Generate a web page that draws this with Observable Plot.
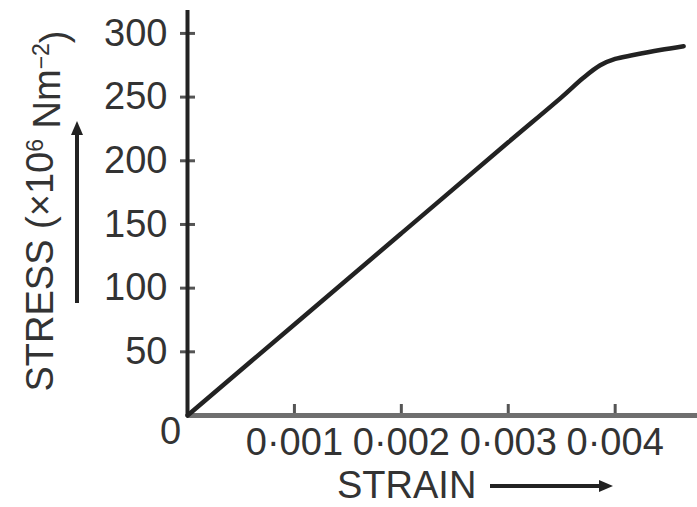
<!DOCTYPE html>
<html><head><meta charset="utf-8">
<script src="https://cdn.jsdelivr.net/npm/d3@7"></script>
<script src="https://cdn.jsdelivr.net/npm/@observablehq/plot@0.6"></script>
<style>body{margin:0;background:#fff;} svg{display:block;}</style>
</head><body><div id="chart"></div>
<script>
// Data
const strain = [0, 0.001, 0.002, 0.003, 0.0035, 0.0037, 0.00386, 0.0040, 0.00417, 0.00442, 0.00464];
const stress = [0, 71.5, 143, 214.5, 250, 265, 275, 280, 283, 287, 290];
const xTicks = [0.001, 0.002, 0.003, 0.004];
const xTickLabels = ["0·001", "0·002", "0·003", "0·004"];
const yTicks = [50, 100, 150, 200, 250, 300];
const yTickLabels = ["50", "100", "150", "200", "250", "300"];
const originLabel = ["0"];
const xTitle = "STRAIN";
const yTitleParts = [["STRESS (×10", 0], ["6", 1], [" Nm", 0], ["−2", 1], [")", 0]];

const data = strain.map((x, i) => ({x, y: stress[i]}));
const font = "'Liberation Sans', Arial, Helvetica, sans-serif";
const W = 697, H = 507, ML = 187, MT = 10, MB = 92, MR = 0;

const chart = Plot.plot({
  width: W, height: H, marginLeft: ML, marginRight: MR, marginTop: MT, marginBottom: MB,
  style: {fontFamily: font, fontSize: "38px", color: "#333", background: "#fff", overflow: "visible"},
  x: {domain: [0, 0.00477]},
  y: {domain: [0, 318]},
  marks: [
    Plot.axisY(yTicks, {tickSize: 0, tickPadding: 20, tickFormat: d => yTickLabels[yTicks.indexOf(d)], fontSize: 38, fill: "#333", label: null}),
    Plot.axisX(xTicks, {tickSize: 0, tickPadding: 13, tickFormat: d => xTickLabels[xTicks.indexOf(d)], fontSize: 38, fill: "#333", label: null}),
    Plot.tickY(yTicks, {y: d => d, dx: -7, insetRight: W - ML - MR - 15, stroke: "#555", strokeWidth: 3}),
    Plot.tickX(xTicks, {x: d => d, insetTop: H - MT - MB - 11, stroke: "#555", strokeWidth: 3}),
    Plot.ruleY([0], {stroke: "#6f6f6f", strokeWidth: 5}),
    Plot.ruleX([0], {stroke: "#222", strokeWidth: 4}),
    Plot.line(data, {x: "x", y: "y", stroke: "#222", strokeWidth: 4.5, curve: "catmull-rom"}),
    Plot.text(originLabel, {x: 0, y: 0, text: d => d, dx: -17, dy: 16, fontSize: 38, fill: "#333", textAnchor: "middle", lineAnchor: "middle"})
  ]
});
document.getElementById("chart").appendChild(chart);

const svg = d3.select(chart);
// y-axis title (rotated)
const yt = svg.append("text")
  .attr("transform", "translate(53,211) rotate(-90)")
  .attr("text-anchor", "middle")
  .attr("font-family", font).attr("font-size", 38).attr("fill", "#333");
let shifted = false;
for (const [t, sup] of yTitleParts) {
  const ts = yt.append("tspan").text(t);
  if (sup && !shifted) { ts.attr("dy", "-0.45em").attr("font-size", 23); shifted = true; }
  else if (!sup && shifted) { ts.attr("dy", "0.45em"); shifted = false; }
  else if (sup) ts.attr("font-size", 23);
}
// x-axis title
svg.append("text").attr("x", 337).attr("y", 498).attr("text-anchor", "start")
  .attr("font-family", font).attr("font-size", 38).attr("fill", "#333").text(xTitle);
// arrows
svg.append("line").attr("x1", 490).attr("x2", 602).attr("y1", 486).attr("y2", 486)
  .attr("stroke", "#222").attr("stroke-width", 4);
svg.append("path").attr("d", "M613,486 L599,480 L599,492 Z").attr("fill", "#222");
svg.append("line").attr("x1", 77).attr("x2", 77).attr("y1", 303).attr("y2", 132)
  .attr("stroke", "#222").attr("stroke-width", 4);
svg.append("path").attr("d", "M77,121 L71,135 L83,135 Z").attr("fill", "#222");
</script>
</body></html>
